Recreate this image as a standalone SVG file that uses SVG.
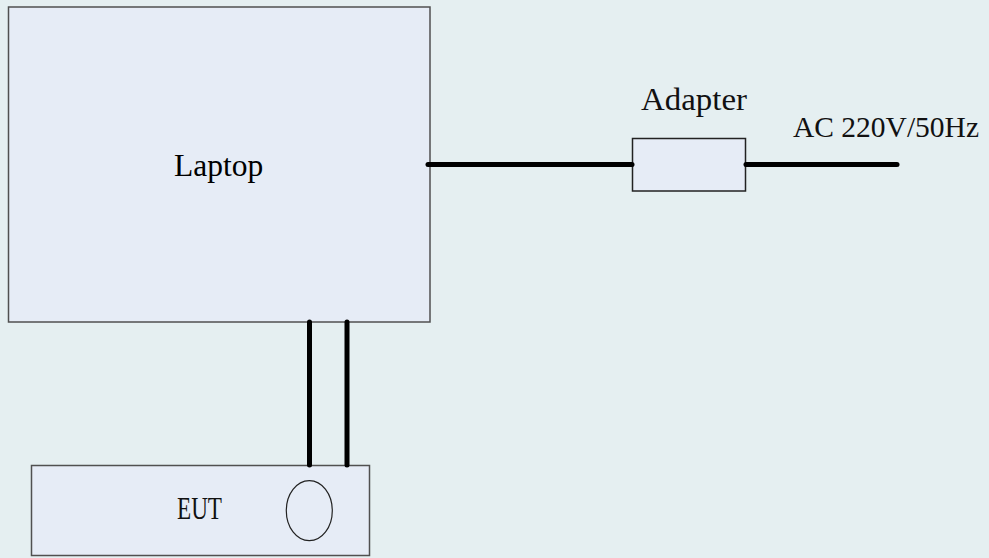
<svg xmlns="http://www.w3.org/2000/svg" width="989" height="558" viewBox="0 0 989 558">
<style>
.box{fill:#e6ecf6;stroke:#505050;stroke-width:1.5}
.cable{stroke:#000;stroke-width:5;stroke-linecap:round;fill:none}
.serif{font-family:"Liberation Serif","Times New Roman",serif;fill:#000}
.cond{font-family:"Liberation Serif","Times New Roman",serif;fill:#111}
</style>
<rect x="0" y="0" width="989" height="558" fill="#e5eff1"/>
<g id="laptop">
<rect class="box" x="8.5" y="7" width="421.5" height="315"/>
<text class="serif" x="174" y="176" font-size="31.5">Laptop</text>
</g>
<g id="adapter">
<rect class="box" x="632.5" y="138.5" width="113" height="52.5" style="stroke:#222"/>
<text class="cond" x="641" y="110" font-size="32" textLength="106" lengthAdjust="spacingAndGlyphs">Adapter</text>
</g>
<g id="ac-source">
<text class="cond" x="793" y="137" font-size="29.5">AC 220V/50Hz</text>
</g>
<g id="eut">
<rect class="box" x="31.5" y="465.5" width="338" height="90"/>
<text class="cond" x="177" y="519" font-size="31" textLength="45" lengthAdjust="spacingAndGlyphs">EUT</text>
<ellipse cx="309.3" cy="510.7" rx="23" ry="30" fill="none" stroke="#222" stroke-width="1.2"/>
</g>
<g id="connectors">
<line class="cable" x1="428" y1="164.5" x2="632" y2="164.5"/>
<line class="cable" x1="746" y1="164.5" x2="897" y2="164.5"/>
<line class="cable" x1="309.5" y1="322" x2="309.5" y2="465"/>
<line class="cable" x1="347" y1="322" x2="347" y2="465"/>
</g>
</svg>
